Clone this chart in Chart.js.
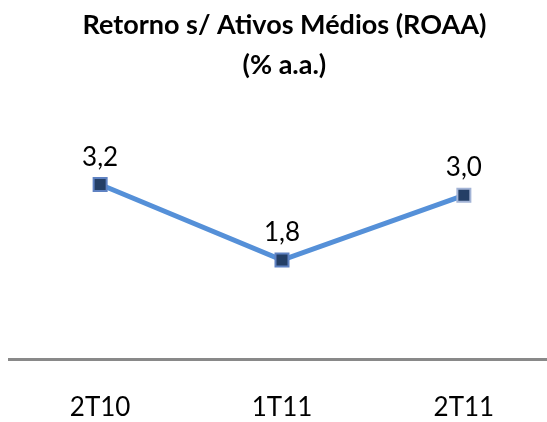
<!DOCTYPE html>
<html lang="pt">
<head>
    <meta charset="UTF-8">
    <title>ROAA</title>
    <script src="https://cdn.jsdelivr.net/npm/chart.js"></script>
    <style>
        html, body {
            margin: 0;
            padding: 0;
            background: #ffffff;
            overflow: hidden;
        }
        #wrap {
            width: 568px;
            height: 455px;
            position: relative;
            left: -2.4px;
        }
    </style>
</head>
<body>
    <div id="wrap">
        <canvas id="roaaChart"></canvas>
    </div>

    <script>
        const categories = ['2T10', '1T11', '2T11'];
        const roaaValues = [3.2, 1.8, 3.0];
        const valueLabels = ['3,2', '1,8', '3,0'];
        const titleLines = ['Retorno s/ Ativos Médios (ROAA)', '(% a.a.)'];

        // title drawn by hand so it sits centred on the visible page
        const titleText = {
            id: 'titleText',
            afterDraw(chart) {
                const ctx = chart.ctx;
                ctx.save();
                ctx.font = 'bold 27px Lato';
                ctx.fillStyle = '#000000';
                ctx.textAlign = 'center';
                ctx.textBaseline = 'alphabetic';
                ctx.fillText(titleLines[0], 286.4, 34);
                ctx.fillText(titleLines[1], 286.4, 73.5);
                ctx.restore();
            }
        };

        // numbers above each marker
        const pointLabels = {
            id: 'pointLabels',
            afterDatasetsDraw(chart) {
                const ctx = chart.ctx;
                const meta = chart.getDatasetMeta(0);
                ctx.save();
                ctx.font = '26px Lato';
                ctx.fillStyle = '#000000';
                ctx.textAlign = 'center';
                ctx.textBaseline = 'alphabetic';
                meta.data.forEach((pt, i) => {
                    ctx.fillText(valueLabels[i], pt.x, pt.y - 19);
                });
                ctx.restore();
            }
        };

        new Chart(document.getElementById('roaaChart'), {
            type: 'line',
            data: {
                labels: categories,
                datasets: [{
                    data: roaaValues,
                    borderColor: '#5590d8',
                    borderWidth: 5,
                    tension: 0,
                    pointStyle: 'rect',
                    pointRadius: 9.2,
                    pointHoverRadius: 9.2,
                    pointBackgroundColor: '#243f66',
                    pointBorderColor: ['#5f82c2', '#5f82c2', '#a3b4d6'],
                    pointBorderWidth: 2,
                    clip: false
                }]
            },
            options: {
                responsive: true,
                maintainAspectRatio: false,
                animation: false,
                layout: {
                    padding: { left: 0, right: 0, top: 87.5, bottom: 0 }
                },
                plugins: {
                    legend: { display: false },
                    tooltip: { enabled: false },
                    title: { display: false }
                },
                scales: {
                    x: {
                        offset: true,
                        grid: { display: false, drawTicks: false },
                        border: { display: true, color: '#898989', width: 3 },
                        ticks: {
                            color: '#000000',
                            font: { family: 'Lato', size: 26 },
                            padding: 32
                        }
                    },
                    y: {
                        display: false,
                        min: -0.05,
                        max: 5
                    }
                }
            },
            plugins: [titleText, pointLabels]
        });
    </script>
</body>
</html>
